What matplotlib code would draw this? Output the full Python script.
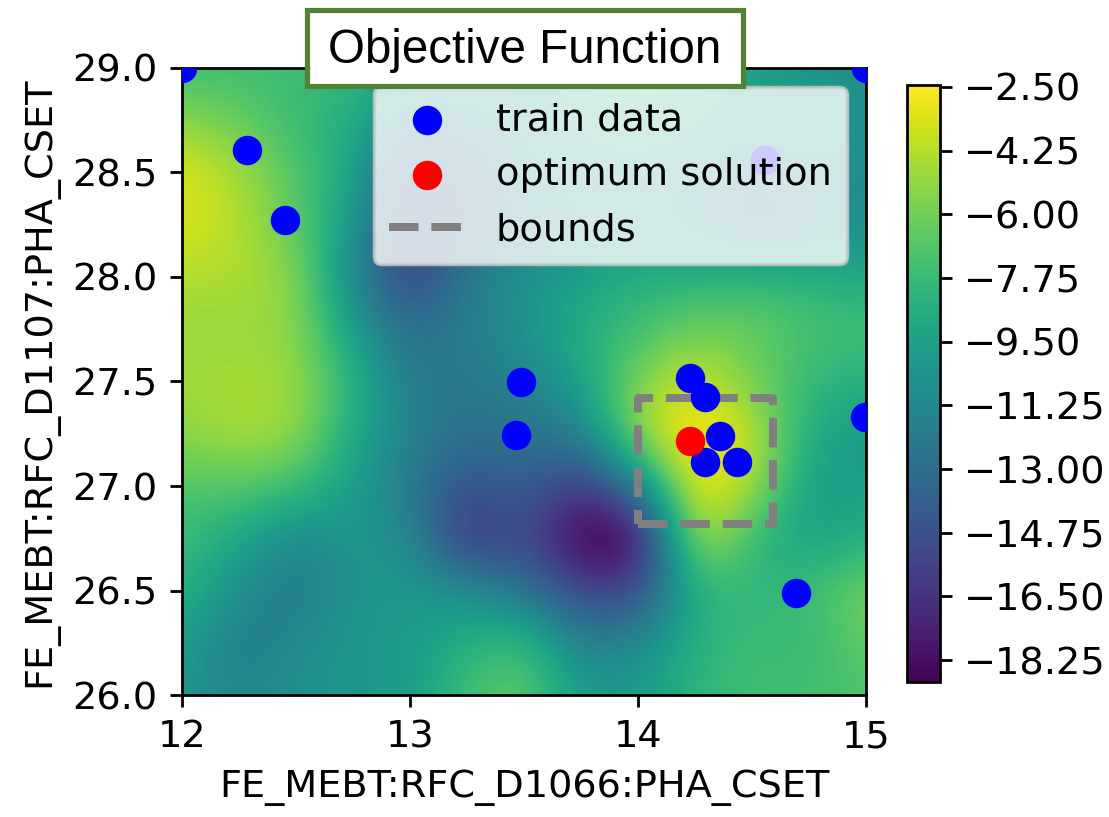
import matplotlib
matplotlib.use("Agg")
import matplotlib.pyplot as plt
from matplotlib.patches import Rectangle
from matplotlib.ticker import FuncFormatter

x_name = "FE_MEBT:RFC_D1066:PHA_CSET"
y_name = "FE_MEBT:RFC_D1107:PHA_CSET"

# GP mean of the objective on a 0.25 grid; rows run from y=29 down to y=26
grid_x = [12.0, 12.25, 12.5, 12.75, 13.0, 13.25, 13.5, 13.75, 14.0, 14.25, 14.5, 14.75, 15.0]
grid_y = [29.0, 28.75, 28.5, 28.25, 28.0, 27.75, 27.5, 27.25, 27.0, 26.75, 26.5, 26.25, 26.0]
objective = [
    [-7.6, -7.5, -7.5, -8.0, -8.5, -9.0, -9.5, -9.0, -8.5, -8.5, -9.5, -10.5, -11.0],
    [-5.3, -6.3, -7.8, -8.5, -12.0, -11.0, -10.0, -8.5, -8.0, -8.5, -10.0, -9.0, -11.0],
    [-3.3, -4.5, -7.0, -9.0, -15.0, -13.0, -11.0, -10.0, -9.5, -10.5, -12.0, -10.5, -11.0],
    [-3.3, -4.2, -6.5, -10.0, -16.0, -13.5, -11.5, -10.5, -10.5, -11.0, -13.0, -12.0, -10.5],
    [-4.4, -4.5, -5.0, -11.5, -16.0, -12.0, -10.5, -9.5, -8.5, -8.5, -8.0, -8.3, -9.0],
    [-5.0, -5.0, -5.0, -10.0, -13.0, -11.8, -10.5, -8.5, -7.5, -6.0, -6.3, -7.2, -7.5],
    [-4.8, -4.5, -4.8, -8.2, -12.3, -12.3, -11.5, -9.5, -5.5, -3.5, -6.0, -8.0, -8.5],
    [-5.3, -4.5, -4.8, -9.1, -11.5, -12.9, -12.5, -12.0, -4.5, -2.0, -3.8, -9.0, -10.0],
    [-7.0, -6.6, -7.5, -9.7, -12.3, -15.0, -13.5, -16.5, -12.0, -2.2, -4.5, -10.0, -9.5],
    [-7.6, -9.2, -11.3, -10.0, -10.9, -17.0, -14.6, -19.5, -19.5, -3.5, -8.0, -9.7, -8.5],
    [-8.2, -10.7, -12.5, -10.3, -10.0, -10.7, -12.8, -15.5, -15.5, -8.0, -8.3, -7.5, -5.8],
    [-9.5, -12.3, -11.0, -10.1, -9.9, -8.5, -7.3, -12.0, -11.0, -8.5, -7.5, -8.0, -6.3],
    [-10.1, -11.5, -10.5, -10.2, -10.0, -7.2, -6.3, -10.0, -10.0, -8.0, -7.5, -7.5, -7.0],
]

train_x = [12.0, 15.0, 12.285, 12.452, 13.487, 13.465, 14.228, 14.294,
           14.36, 14.294, 14.434, 14.693, 14.996, 14.557]
train_y = [29.0, 29.0, 28.608, 28.273, 27.498, 27.244, 27.517, 27.426,
           27.24, 27.115, 27.115, 26.488, 27.33, 28.56]
opt_x = [14.228]
opt_y = [27.215]
bounds_x = [14.0, 14.59]
bounds_y = [26.82, 27.42]

z_min, z_max = -18.85, -2.45
cbar_ticks = [-2.5, -4.25, -6.0, -7.75, -9.5, -11.25, -13.0, -14.75, -16.5, -18.25]

plt.rcParams["font.size"] = 11

fig = plt.figure(figsize=(1109 / 250, 817 / 250), dpi=250)
ax = fig.add_axes([0.1641, 0.1493, 0.6168, 0.7675])
cax = fig.add_axes([0.8179, 0.1652, 0.0298, 0.7307])

dx = (grid_x[1] - grid_x[0]) / 2
dy = (grid_y[0] - grid_y[1]) / 2
im = ax.imshow(objective, cmap="viridis", vmin=z_min, vmax=z_max,
               interpolation="bicubic", aspect="auto", origin="upper",
               extent=[grid_x[0] - dx, grid_x[-1] + dx, grid_y[-1] - dy, grid_y[0] + dy])

ax.scatter(train_x, train_y, s=56, c="blue", label="train data", zorder=3)
ax.scatter(opt_x, opt_y, s=56, c="red", label="optimum solution", zorder=4)

# search bounds drawn as a closed dashed box
box_x = [bounds_x[0], bounds_x[1], bounds_x[1], bounds_x[0], bounds_x[0]]
box_y = [bounds_y[0], bounds_y[0], bounds_y[1], bounds_y[1], bounds_y[0]]
ax.plot(box_x, box_y, ls="--", color="gray", lw=2.3, label="bounds", zorder=2)

ax.set_xlim(12, 15)
ax.set_ylim(26, 29)
ax.set_xticks([12, 13, 14, 15])
ax.set_yticks([26.0, 26.5, 27.0, 27.5, 28.0, 28.5, 29.0])
ax.set_xlabel(x_name)
ax.set_ylabel(y_name)
ax.legend(loc="upper right", framealpha=0.8)

minus_fmt = FuncFormatter(lambda v, pos: f"{v:.2f}".replace("-", "\u2212"))
cb = fig.colorbar(im, cax=cax, ticks=cbar_ticks, format=minus_fmt)

# title tag on top of the plot
fig.patches.append(Rectangle((307 / 1109, 1 - 86 / 817), 436 / 1109, 76 / 817,
                             transform=fig.transFigure, facecolor="white",
                             edgecolor="#548235", lw=1.5, zorder=10))
fig.text(0.4734, 0.9388, "Objective Function", fontsize=13.7,
         family="Liberation Sans", ha="center", va="center", zorder=11)

fig.savefig("out.png", dpi=250)
